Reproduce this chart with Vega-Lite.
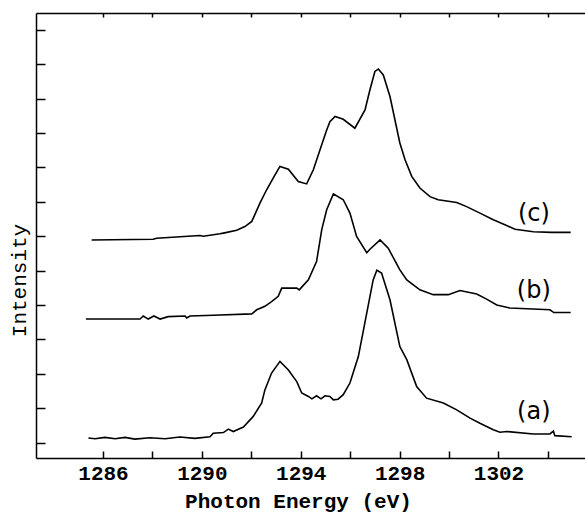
{
  "$schema": "https://vega.github.io/schema/vega-lite/v6.json",
  "width": 549,
  "height": 445,
  "autosize": "none",
  "padding": {"left": 36, "top": 13, "right": 0, "bottom": 56},
  "background": "white",
  "config": {"view": {"stroke": null}},
  "datasets": {
    "spectra": [
      {"s": "c", "x": 1285.54, "y": 5.89},
      {"s": "c", "x": 1288.03, "y": 5.91},
      {"s": "c", "x": 1288.17, "y": 5.94},
      {"s": "c", "x": 1289.92, "y": 6.02},
      {"s": "c", "x": 1290.06, "y": 6.0},
      {"s": "c", "x": 1290.73, "y": 6.07},
      {"s": "c", "x": 1290.87, "y": 6.09},
      {"s": "c", "x": 1291.41, "y": 6.17},
      {"s": "c", "x": 1291.74, "y": 6.28},
      {"s": "c", "x": 1292.02, "y": 6.43},
      {"s": "c", "x": 1292.35, "y": 6.96},
      {"s": "c", "x": 1292.62, "y": 7.35},
      {"s": "c", "x": 1292.96, "y": 7.78},
      {"s": "c", "x": 1293.16, "y": 8.03},
      {"s": "c", "x": 1293.5, "y": 7.95},
      {"s": "c", "x": 1293.9, "y": 7.59},
      {"s": "c", "x": 1294.24, "y": 7.52},
      {"s": "c", "x": 1294.51, "y": 7.93},
      {"s": "c", "x": 1294.78, "y": 8.51},
      {"s": "c", "x": 1295.05, "y": 9.09},
      {"s": "c", "x": 1295.18, "y": 9.33},
      {"s": "c", "x": 1295.39, "y": 9.48},
      {"s": "c", "x": 1295.72, "y": 9.4},
      {"s": "c", "x": 1296.19, "y": 9.14},
      {"s": "c", "x": 1296.6, "y": 9.67},
      {"s": "c", "x": 1296.8, "y": 10.26},
      {"s": "c", "x": 1297.0, "y": 10.79},
      {"s": "c", "x": 1297.14, "y": 10.86},
      {"s": "c", "x": 1297.34, "y": 10.69},
      {"s": "c", "x": 1297.61, "y": 10.06},
      {"s": "c", "x": 1298.01, "y": 8.71},
      {"s": "c", "x": 1298.22, "y": 8.22},
      {"s": "c", "x": 1298.49, "y": 7.74},
      {"s": "c", "x": 1298.82, "y": 7.4},
      {"s": "c", "x": 1299.23, "y": 7.15},
      {"s": "c", "x": 1299.56, "y": 7.06},
      {"s": "c", "x": 1300.31, "y": 6.98},
      {"s": "c", "x": 1300.71, "y": 6.86},
      {"s": "c", "x": 1301.25, "y": 6.67},
      {"s": "c", "x": 1301.79, "y": 6.48},
      {"s": "c", "x": 1302.33, "y": 6.31},
      {"s": "c", "x": 1302.67, "y": 6.2},
      {"s": "c", "x": 1303.41, "y": 6.13},
      {"s": "c", "x": 1304.15, "y": 6.11},
      {"s": "c", "x": 1304.92, "y": 6.11},

      {"s": "b", "x": 1285.31, "y": 3.59},
      {"s": "b", "x": 1287.5, "y": 3.59},
      {"s": "b", "x": 1287.63, "y": 3.68},
      {"s": "b", "x": 1287.83, "y": 3.59},
      {"s": "b", "x": 1288.06, "y": 3.68},
      {"s": "b", "x": 1288.31, "y": 3.59},
      {"s": "b", "x": 1288.64, "y": 3.66},
      {"s": "b", "x": 1289.32, "y": 3.68},
      {"s": "b", "x": 1289.39, "y": 3.62},
      {"s": "b", "x": 1289.52, "y": 3.68},
      {"s": "b", "x": 1290.46, "y": 3.7},
      {"s": "b", "x": 1292.02, "y": 3.74},
      {"s": "b", "x": 1292.22, "y": 3.86},
      {"s": "b", "x": 1292.55, "y": 3.96},
      {"s": "b", "x": 1292.82, "y": 4.1},
      {"s": "b", "x": 1293.09, "y": 4.25},
      {"s": "b", "x": 1293.23, "y": 4.49},
      {"s": "b", "x": 1293.84, "y": 4.49},
      {"s": "b", "x": 1293.94, "y": 4.44},
      {"s": "b", "x": 1294.31, "y": 4.73},
      {"s": "b", "x": 1294.64, "y": 5.26},
      {"s": "b", "x": 1294.85, "y": 6.19},
      {"s": "b", "x": 1295.05, "y": 6.77},
      {"s": "b", "x": 1295.32, "y": 7.23},
      {"s": "b", "x": 1295.72, "y": 7.06},
      {"s": "b", "x": 1295.99, "y": 6.67},
      {"s": "b", "x": 1296.26, "y": 5.99},
      {"s": "b", "x": 1296.67, "y": 5.52},
      {"s": "b", "x": 1296.8, "y": 5.62},
      {"s": "b", "x": 1297.21, "y": 5.89},
      {"s": "b", "x": 1297.54, "y": 5.65},
      {"s": "b", "x": 1298.01, "y": 5.02},
      {"s": "b", "x": 1298.29, "y": 4.73},
      {"s": "b", "x": 1298.82, "y": 4.44},
      {"s": "b", "x": 1299.36, "y": 4.3},
      {"s": "b", "x": 1299.97, "y": 4.3},
      {"s": "b", "x": 1300.44, "y": 4.42},
      {"s": "b", "x": 1301.12, "y": 4.32},
      {"s": "b", "x": 1301.52, "y": 4.17},
      {"s": "b", "x": 1301.93, "y": 4.0},
      {"s": "b", "x": 1302.46, "y": 3.91},
      {"s": "b", "x": 1304.08, "y": 3.86},
      {"s": "b", "x": 1304.24, "y": 3.78},
      {"s": "b", "x": 1304.92, "y": 3.78},

      {"s": "a", "x": 1285.41, "y": 0.13},
      {"s": "a", "x": 1285.68, "y": 0.11},
      {"s": "a", "x": 1286.08, "y": 0.15},
      {"s": "a", "x": 1286.49, "y": 0.11},
      {"s": "a", "x": 1286.89, "y": 0.15},
      {"s": "a", "x": 1287.29, "y": 0.1},
      {"s": "a", "x": 1287.9, "y": 0.14},
      {"s": "a", "x": 1288.51, "y": 0.11},
      {"s": "a", "x": 1289.11, "y": 0.16},
      {"s": "a", "x": 1289.72, "y": 0.12},
      {"s": "a", "x": 1290.33, "y": 0.17},
      {"s": "a", "x": 1290.46, "y": 0.27},
      {"s": "a", "x": 1290.87, "y": 0.29},
      {"s": "a", "x": 1291.07, "y": 0.39},
      {"s": "a", "x": 1291.27, "y": 0.32},
      {"s": "a", "x": 1291.68, "y": 0.45},
      {"s": "a", "x": 1292.08, "y": 0.76},
      {"s": "a", "x": 1292.42, "y": 1.15},
      {"s": "a", "x": 1292.55, "y": 1.53},
      {"s": "a", "x": 1292.82, "y": 2.02},
      {"s": "a", "x": 1293.16, "y": 2.36},
      {"s": "a", "x": 1293.5, "y": 2.11},
      {"s": "a", "x": 1293.84, "y": 1.77},
      {"s": "a", "x": 1294.04, "y": 1.44},
      {"s": "a", "x": 1294.31, "y": 1.34},
      {"s": "a", "x": 1294.45, "y": 1.27},
      {"s": "a", "x": 1294.64, "y": 1.36},
      {"s": "a", "x": 1294.82, "y": 1.27},
      {"s": "a", "x": 1294.98, "y": 1.36},
      {"s": "a", "x": 1295.18, "y": 1.34},
      {"s": "a", "x": 1295.32, "y": 1.24},
      {"s": "a", "x": 1295.51, "y": 1.26},
      {"s": "a", "x": 1295.72, "y": 1.39},
      {"s": "a", "x": 1295.99, "y": 1.73},
      {"s": "a", "x": 1296.33, "y": 2.5},
      {"s": "a", "x": 1296.67, "y": 3.76},
      {"s": "a", "x": 1296.93, "y": 4.73},
      {"s": "a", "x": 1297.08, "y": 5.01},
      {"s": "a", "x": 1297.27, "y": 4.93},
      {"s": "a", "x": 1297.61, "y": 4.15},
      {"s": "a", "x": 1298.01, "y": 2.79},
      {"s": "a", "x": 1298.29, "y": 2.41},
      {"s": "a", "x": 1298.69, "y": 1.63},
      {"s": "a", "x": 1299.09, "y": 1.29},
      {"s": "a", "x": 1299.77, "y": 1.15},
      {"s": "a", "x": 1300.31, "y": 0.95},
      {"s": "a", "x": 1300.85, "y": 0.71},
      {"s": "a", "x": 1301.25, "y": 0.56},
      {"s": "a", "x": 1301.79, "y": 0.37},
      {"s": "a", "x": 1302.06, "y": 0.3},
      {"s": "a", "x": 1302.33, "y": 0.32},
      {"s": "a", "x": 1303.41, "y": 0.25},
      {"s": "a", "x": 1304.08, "y": 0.25},
      {"s": "a", "x": 1304.22, "y": 0.33},
      {"s": "a", "x": 1304.28, "y": 0.2},
      {"s": "a", "x": 1304.96, "y": 0.17}
    ],
    "labels": [
      {"label": "(c)", "x": 1303.43, "y": 6.65},
      {"label": "(b)", "x": 1303.43, "y": 4.41},
      {"label": "(a)", "x": 1303.43, "y": 0.89}
    ]
  },
  "layer": [
    {
      "data": {"name": "spectra"},
      "mark": {"type": "line", "color": "black", "strokeWidth": 1.6},
      "encoding": {
        "x": {
          "field": "x", "type": "quantitative",
          "scale": {"domain": [1283.29, 1305.5], "nice": false, "zero": false},
          "axis": {
            "orient": "bottom",
            "values": [1286, 1288, 1290, 1292, 1294, 1296, 1298, 1300, 1302, 1304],
            "tickCount": 30,
            "format": "d",
            "labelExpr": "datum.value % 4 == 2 ? datum.label : ''",
            "grid": false,
            "domainColor": "black", "domainWidth": 1.5,
            "tickColor": "black", "tickWidth": 1.5, "tickSize": -7,
            "labelFont": "Liberation Mono", "labelFontWeight": "bold", "labelFontSize": 21,
            "labelColor": "black", "labelPadding": 11, "labelFlush": false,
            "title": "Photon Energy (eV)",
            "titleFont": "Liberation Mono", "titleFontWeight": "bold", "titleFontSize": 21,
            "titleColor": "black", "titleX": 262, "titlePadding": 7
          }
        },
        "y": {
          "field": "y", "type": "quantitative",
          "scale": {"domain": [-0.45, 12.49], "nice": false, "zero": false},
          "axis": {
            "orient": "left",
            "values": [0, 1, 2, 3, 4, 5, 6, 7, 8, 9, 10, 11, 12],
            "tickCount": 30,
            "labels": false, "grid": false,
            "domainColor": "black", "domainWidth": 1.5,
            "tickColor": "black", "tickWidth": 1.5, "tickSize": -9,
            "title": "Intensity",
            "titleFont": "Liberation Mono", "titleFontWeight": "normal", "titleFontSize": 21,
            "titleColor": "black", "titleY": 267, "titlePadding": 6
          }
        },
        "detail": {"field": "s", "type": "nominal"}
      }
    },
    {
      "data": {"name": "labels"},
      "mark": {"type": "text", "font": "DejaVu Sans", "fontSize": 24, "color": "black", "align": "center", "baseline": "middle"},
      "encoding": {
        "x": {
          "field": "x", "type": "quantitative",
          "scale": {"domain": [1283.29, 1305.5], "nice": false, "zero": false},
          "axis": {
            "orient": "top",
            "values": [1286, 1288, 1290, 1292, 1294, 1296, 1298, 1300, 1302, 1304],
            "tickCount": 30,
            "labels": false, "grid": false, "title": null,
            "domainColor": "black", "domainWidth": 1.5,
            "tickColor": "black", "tickWidth": 1.5, "tickSize": -4
          }
        },
        "y": {"field": "y", "type": "quantitative"},
        "text": {"field": "label"}
      }
    }
  ],
  "resolve": {"axis": {"x": "independent"}}
}
